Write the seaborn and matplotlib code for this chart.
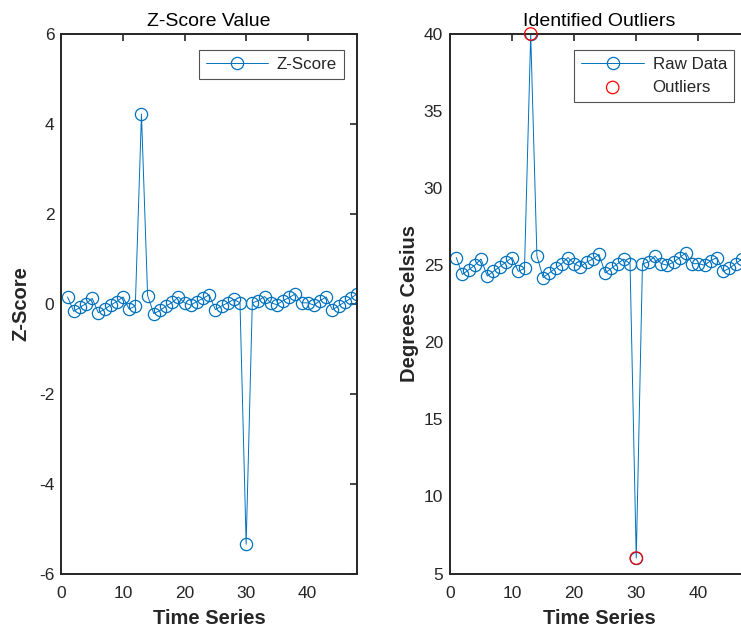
import numpy as np
import pandas as pd
import matplotlib
matplotlib.use("Agg")
import matplotlib.pyplot as plt
import seaborn as sns

# ---- data ----
time_idx = list(range(1, 49))
z_score = [0.15, -0.17, -0.08, 0.00, 0.12, -0.20, -0.12, -0.03, 0.05, 0.15,
           -0.12, -0.05, 4.22, 0.18, -0.22, -0.15, -0.05, 0.03, 0.15, 0.02,
           -0.03, 0.05, 0.12, 0.20, -0.13, -0.05, 0.02, 0.10, 0.02, -5.35,
           0.02, 0.07, 0.16, 0.02, -0.02, 0.07, 0.14, 0.22, 0.02, 0.02,
           -0.03, 0.07, 0.15, -0.13, -0.05, 0.04, 0.12, 0.22]
raw_temp = [25.5, 24.4, 24.7, 25.0, 25.4, 24.3, 24.6, 24.9, 25.2, 25.5,
            24.6, 24.8, 40.0, 25.6, 24.2, 24.5, 24.8, 25.1, 25.5, 25.1,
            24.9, 25.2, 25.4, 25.7, 24.5, 24.8, 25.1, 25.4, 25.1, 6.0,
            25.1, 25.2, 25.6, 25.1, 25.0, 25.2, 25.5, 25.8, 25.1, 25.1,
            25.0, 25.3, 25.5, 24.6, 24.8, 25.1, 25.4, 25.8]
outlier_idx = [13, 30]
outlier_temp = [40.0, 6.0]

z_ticks = [-6, -4, -2, 0, 2, 4, 6]
t_ticks = [5, 10, 15, 20, 25, 30, 35, 40]
x_ticks = [0, 10, 20, 30, 40]

df = pd.DataFrame({"t": time_idx, "z": z_score, "raw": raw_temp})
df_out = pd.DataFrame({"t": outlier_idx, "raw": outlier_temp})

sns.set_theme(style="white")
plt.rcParams["font.family"] = ["Liberation Sans", "DejaVu Sans"]
plt.rcParams["axes.unicode_minus"] = False

BLUE = "#0072BD"
RED = "#FF0000"
AX = "#262626"

fig = plt.figure(figsize=(7.41, 6.31), dpi=100)
fig.patch.set_facecolor("white")
W, H = 741, 631
def pos(x0, x1, ytop, ybot):
    return [x0 / W, (H - ybot) / H, (x1 - x0) / W, (ybot - ytop) / H]

ax1 = fig.add_axes(pos(61.4, 357, 34, 573.5))
ax2 = fig.add_axes(pos(450, 748, 34, 573.5))

line_kw = dict(marker="o", markersize=8.8, markerfacecolor="none",
               markeredgecolor=BLUE, markeredgewidth=0.9, linewidth=0.7,
               color=BLUE)

sns.lineplot(data=df, x="t", y="z", ax=ax1, label="Z-Score", **line_kw)
sns.lineplot(data=df, x="t", y="raw", ax=ax2, label="Raw Data", **line_kw)
sns.scatterplot(data=df_out, x="t", y="raw", ax=ax2, label="Outliers",
                marker="o", s=80, facecolor="none", edgecolor=RED,
                linewidth=0.9, clip_on=False, zorder=5)

for ax, yt, ylim, ylab, title, lp in [
    (ax1, z_ticks, (-6, 6), "Z-Score", "Z-Score Value", 6),
    (ax2, t_ticks, (5, 40), "Degrees Celsius", "Identified Outliers", 3),
]:
    ax.set_xlim(0, 48)
    ax.set_ylim(*ylim)
    ax.set_xticks(x_ticks)
    ax.set_yticks(yt)
    ax.set_xlabel("Time Series", fontsize=14.5, fontweight="bold", color=AX,
                  labelpad=6)
    ax.set_ylabel(ylab, fontsize=14.5, fontweight="bold", color=AX,
                  labelpad=lp)
    ax.set_title(title, fontsize=14, color="black", pad=6)
    ax.tick_params(direction="in", length=5, width=1.2, top=True, right=True,
                   labelsize=12.5, colors=AX)
    ax.tick_params(axis="x", pad=9)
    ax.tick_params(axis="y", pad=5)
    for s in ax.spines.values():
        s.set_visible(True)
        s.set_color(AX)
        s.set_linewidth(1.4)
    ax.set_facecolor("white")

leg1 = ax1.legend(loc="upper right", bbox_to_anchor=(0.957, 0.970),
                  borderaxespad=0, fontsize=12.2, handlelength=3.7,
                  frameon=True, fancybox=False, edgecolor=AX,
                  borderpad=0.42, handletextpad=0.5)
leg1.get_frame().set_linewidth(0.8)

leg2 = ax2.legend(loc="upper right", bbox_to_anchor=(0.953, 0.970),
                  borderaxespad=0, fontsize=12.2, handlelength=3.7,
                  frameon=True, fancybox=False, edgecolor=AX,
                  borderpad=0.42, labelspacing=0.45, handletextpad=0.5)
leg2.get_frame().set_linewidth(0.8)

fig.savefig("out.png", dpi=100, facecolor="white")
